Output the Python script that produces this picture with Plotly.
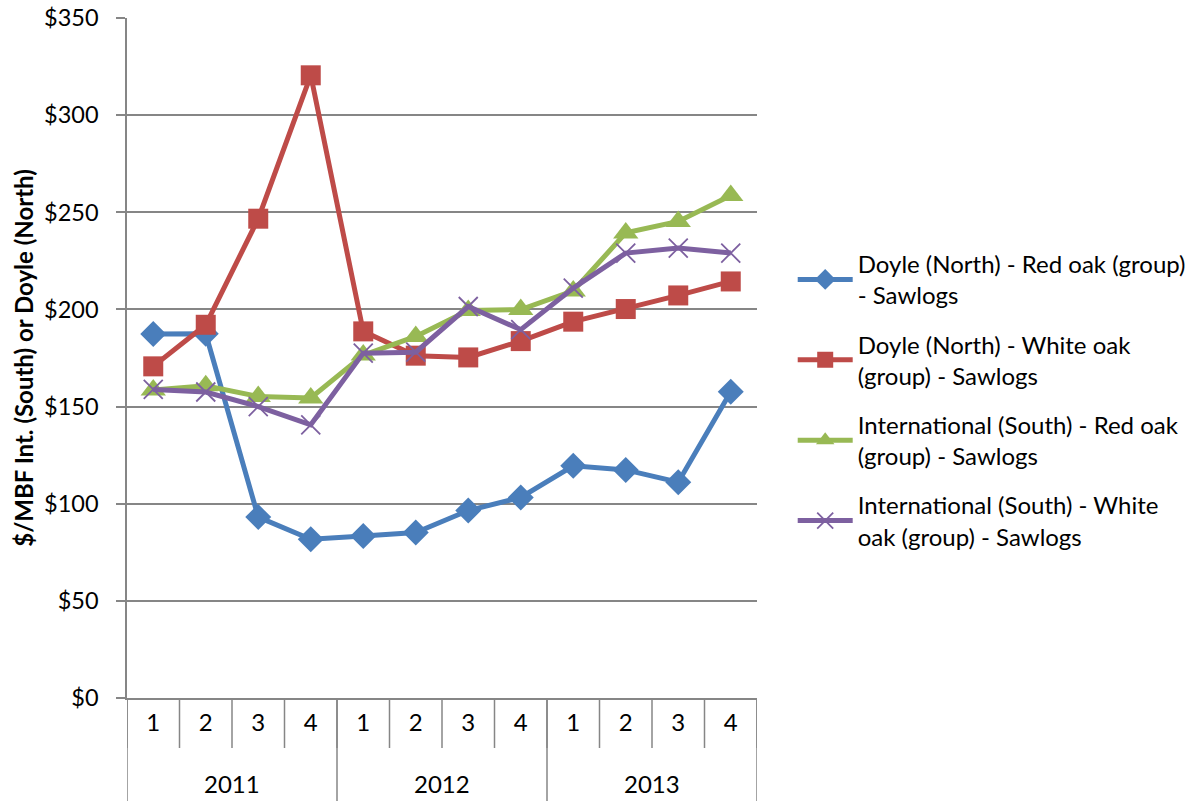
import plotly.graph_objects as go

years = ["2011"] * 4 + ["2012"] * 4 + ["2013"] * 4
quarters = ["1", "2", "3", "4"] * 3
year_labels = ["2011", "2012", "2013"]

doyle_red = [187.3, 187.5, 93.1, 81.7, 83.4, 85.2, 96.5, 103.2, 119.5, 117.4, 111.1, 157.6]
doyle_white = [170.7, 192.1, 246.7, 320.5, 188.7, 176.2, 175.3, 183.7, 193.7, 200.2, 207.2, 214.4]
intl_red = [158.5, 160.7, 155.2, 154.4, 176.5, 186.1, 199.5, 199.9, 209.5, 239.4, 245.3, 258.6]
intl_white = [158.8, 157.5, 150.0, 140.6, 177.5, 178.0, 201.5, 189.6, 211.0, 229.0, 231.6, 229.0]

names = [
    "Doyle (North) - Red oak (group)<br>- Sawlogs",
    "Doyle (North) - White oak<br>(group) - Sawlogs",
    "International (South) - Red oak<br>(group) - Sawlogs",
    "International (South) - White<br>oak (group) - Sawlogs",
]
colors = ["#4A7EBB", "#BE4B48", "#98B954", "#7D60A0"]
symbols = ["diamond", "square", "triangle-up", "x-thin"]
sizes = [20, 20, 22, 19]
series = [doyle_red, doyle_white, intl_red, intl_white]

keys = [f"{y}-{q}" for y, q in zip(years, quarters)]
AX = "#868686"
FONT = "Lato, Open Sans, sans-serif"
FS = 24

fig = go.Figure()
for i, (nm, c, s, sz, vals) in enumerate(zip(names, colors, symbols, sizes, series)):
    marker = dict(symbol=s, size=sz, color=c)
    if s == "x-thin":
        marker["line"] = dict(color=c, width=1.8)
    fig.add_trace(go.Scatter(
        x=keys, y=vals, name=nm, mode="lines+markers", legendgroup=f"g{i}",
        line=dict(color=c, width=5), marker=marker,
    ))

n = len(keys)
plot_h = 680.0
shapes = []
for k in range(n + 1):
    shapes.append(dict(type="line", xref="x", yref="paper", x0=k - 0.5, x1=k - 0.5,
                       y0=0, y1=-50 / plot_h, line=dict(color=AX, width=1.5)))
for k in range(0, n + 1, 4):
    shapes.append(dict(type="line", xref="x", yref="paper", x0=k - 0.5, x1=k - 0.5,
                       y0=0, y1=-103 / plot_h, line=dict(color=AX, width=1.5)))

annotations = []
for i, yl in enumerate(year_labels):
    annotations.append(dict(text=yl, xref="x", yref="paper", x=i * 4 + 1.5,
                            y=-85 / plot_h, showarrow=False, yanchor="middle",
                            font=dict(family=FONT, size=FS, color="black")))

fig.update_layout(
    width=1202, height=801,
    margin=dict(l=127, r=444, t=18, b=103),
    paper_bgcolor="white", plot_bgcolor="white",
    font=dict(family=FONT, size=FS, color="black"),
    showlegend=True,
    legend=dict(x=1.055, y=0.671, xanchor="left", yanchor="top",
                font=dict(family=FONT, size=FS), tracegroupgap=15, itemwidth=55,
                bgcolor="rgba(0,0,0,0)"),
    shapes=shapes, annotations=annotations,
    xaxis=dict(
        type="category", categoryorder="array", categoryarray=keys,
        range=[-0.5, n - 0.5], tickvals=keys, ticktext=quarters,
        showgrid=False, showline=True, linecolor=AX, linewidth=1.5,
        ticks="", ticklabelstandoff=2, tickfont=dict(size=FS), automargin=False,
    ),
    yaxis=dict(
        range=[0, 350], dtick=50, tickprefix="$", showgrid=True,
        gridcolor=AX, gridwidth=1.5, showline=True,
        linecolor=AX, linewidth=1.5, ticks="outside", ticklen=9,
        tickcolor=AX, tickwidth=1.5, zeroline=False, tickfont=dict(size=23.5),
        ticklabelstandoff=13, automargin=False,
        title=dict(text="<b>$/MBF Int. (South) or Doyle (North)</b>",
                   font=dict(size=FS), standoff=4),
    ),
)

fig.write_html("out.html")
